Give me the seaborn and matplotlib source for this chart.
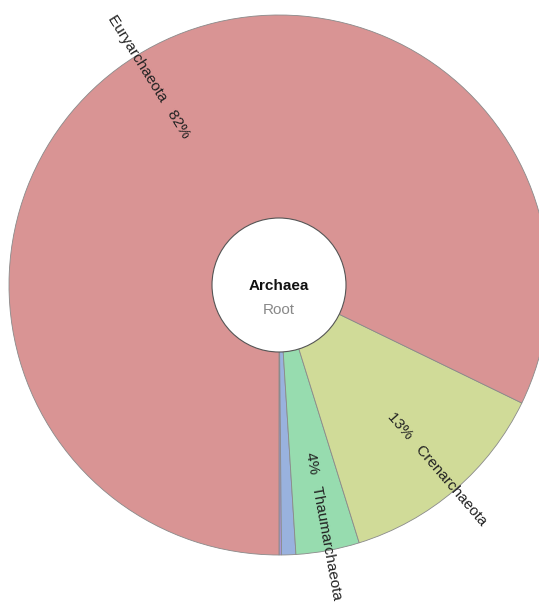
import numpy as np
import matplotlib
matplotlib.use("Agg")
import matplotlib.pyplot as plt
import seaborn as sns
from matplotlib.patches import Circle

# data (percent of Archaea)
names = ["", "", "Thaumarchaeota", "Crenarchaeota", "Euryarchaeota"]
values = [0.15, 0.85, 3.8, 13.0, 82.2]
pct_labels = ["", "", "4%", "13%", "82%"]
colors = ["#a896d8", "#99b2de", "#97dcaf", "#d0db98", "#d99494"]

sns.set_style("white")
plt.rcParams["font.family"] = ["Liberation Sans", "DejaVu Sans"]

W, H = 539, 602
cx, cy = 279, 285
R_OUT, R_IN = 270, 67

fig = plt.figure(figsize=(W / 100, H / 100), dpi=100)
ax = fig.add_axes([0, 0, 1, 1])

wedges, _ = ax.pie(
    values,
    colors=sns.color_palette(colors),
    startangle=-90,
    counterclock=True,
    radius=R_OUT,
    wedgeprops=dict(edgecolor="#8a8a8a", linewidth=0.6),
)

# radial labels, Krona style
for w, name, pct in zip(wedges, names, pct_labels):
    if not name:
        continue
    theta = (w.theta1 + w.theta2) / 2
    t = np.deg2rad(theta)
    if np.cos(t) >= 0:
        r0 = 170
        ax.text(r0 * np.cos(t), r0 * np.sin(t), f"{pct}   {name}", rotation=theta,
                rotation_mode="anchor", ha="left", va="center", fontsize=11, color="#222222")
    else:
        r0 = 174
        ax.text(r0 * np.cos(t), r0 * np.sin(t), f"{name}   {pct}", rotation=theta - 180,
                rotation_mode="anchor", ha="right", va="center", fontsize=11, color="#222222")

# centre circle
ax.add_patch(Circle((0, 0), R_IN, facecolor="white", edgecolor="#555555", linewidth=0.8, zorder=5))
ax.text(0, -1, "Archaea", ha="center", va="center", fontsize=11, fontweight="bold",
        color="#111111", zorder=6)
ax.text(0, -25, "Root", ha="center", va="center", fontsize=11, color="#888888", zorder=6)

ax.set_xlim(-cx, W - cx)
ax.set_ylim(-(H - cy), cy)
ax.set_aspect("equal", adjustable="datalim")
ax.axis("off")

fig.savefig("out.png", dpi=100)
